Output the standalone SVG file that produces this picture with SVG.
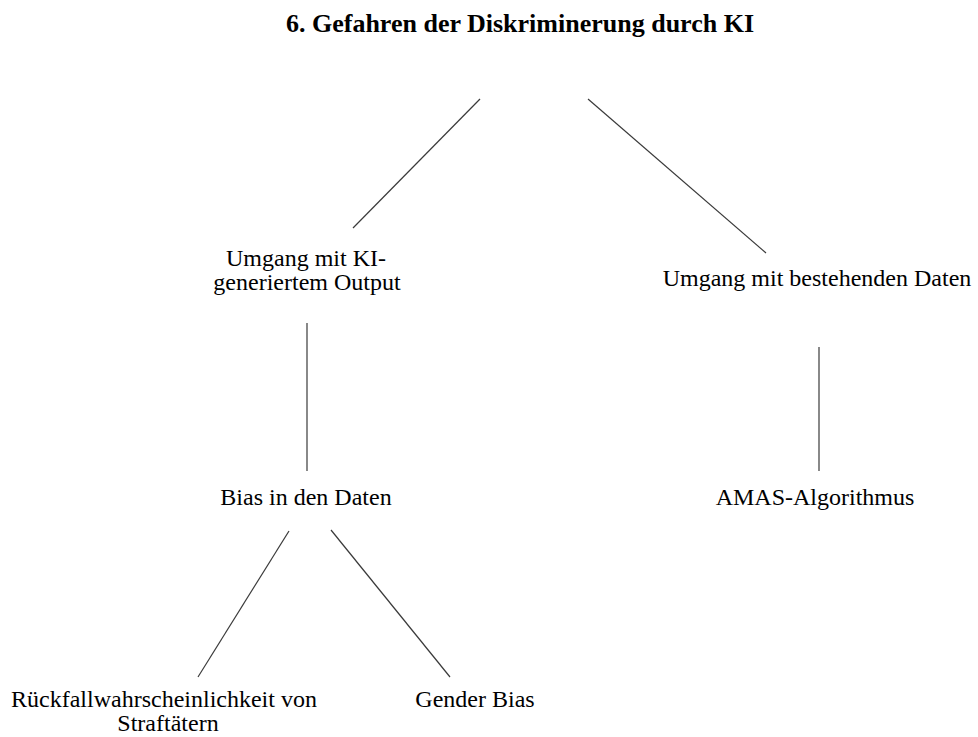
<svg xmlns="http://www.w3.org/2000/svg" width="978" height="737" viewBox="0 0 978 737">
  <style>
    .t { font-family: "Liberation Serif", "Times New Roman", serif; font-size: 24px; fill: #000; text-anchor: middle; }
    .title { font-family: "Liberation Serif", "Times New Roman", serif; font-size: 26px; font-weight: bold; fill: #000; text-anchor: middle; }
    .edge { stroke: #3a3a3a; stroke-width: 1.2; fill: none; }
  </style>
  <rect width="978" height="737" fill="#fff"/>

  <g id="root">
    <text class="title" x="520" y="32">6. Gefahren der Diskriminerung durch KI</text>
  </g>

  <g id="connectors">
    <line class="edge" x1="480" y1="99" x2="353" y2="228"/>
    <line class="edge" x1="588" y1="99" x2="766" y2="253"/>
    <line class="edge" x1="307" y1="323" x2="307" y2="471"/>
    <line class="edge" x1="819" y1="347" x2="819" y2="471"/>
    <line class="edge" x1="289" y1="531" x2="198" y2="677"/>
    <line class="edge" x1="331" y1="530" x2="450" y2="677"/>
  </g>

  <g id="ki-output">
    <text class="t" x="306" y="266">Umgang mit KI-</text>
    <text class="t" x="307" y="290">generiertem Output</text>
  </g>
  <g id="bestehende-daten">
    <text class="t" x="817" y="286">Umgang mit bestehenden Daten</text>
  </g>
  <g id="bias">
    <text class="t" x="306" y="505">Bias in den Daten</text>
  </g>
  <g id="amas">
    <text class="t" x="815" y="505">AMAS-Algorithmus</text>
  </g>
  <g id="rueckfall">
    <text class="t" x="164" y="707">Rückfallwahrscheinlichkeit von</text>
    <text class="t" x="168" y="731">Straftätern</text>
  </g>
  <g id="gender">
    <text class="t" x="475" y="707">Gender Bias</text>
  </g>
</svg>
